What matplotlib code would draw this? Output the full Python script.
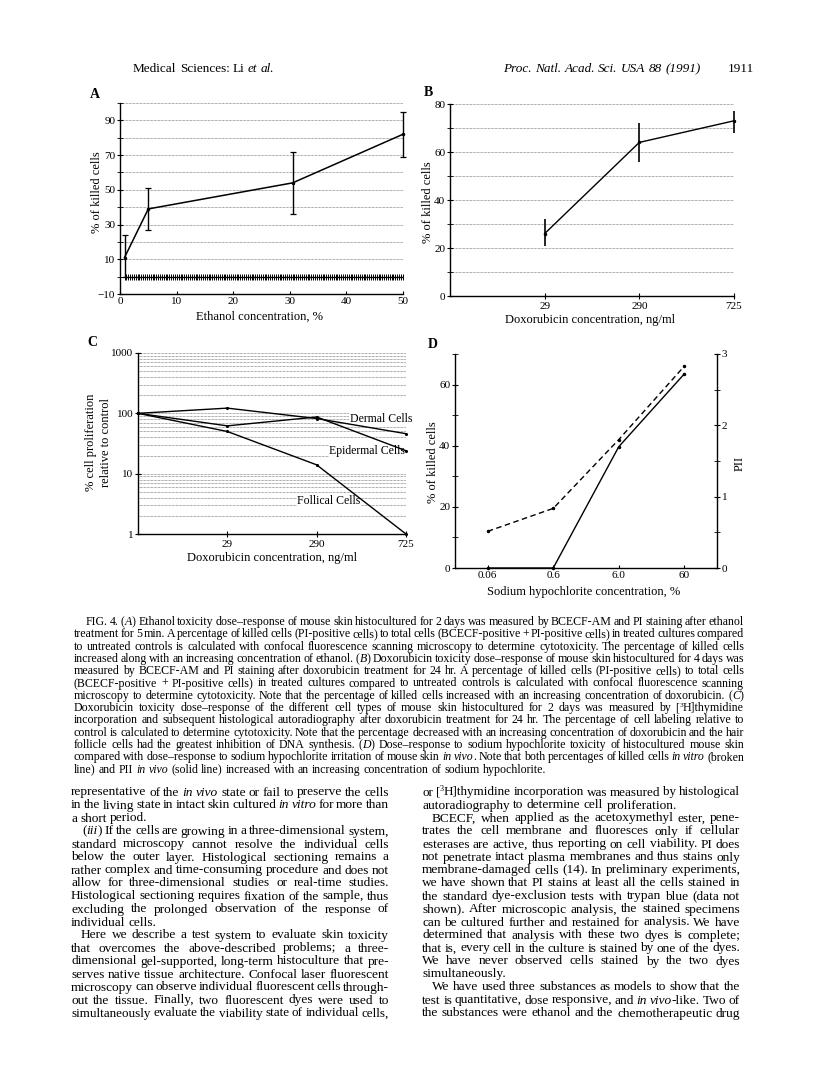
import numpy as np
import matplotlib
matplotlib.use('Agg')
import matplotlib.pyplot as plt
from matplotlib.ticker import FixedLocator, NullFormatter

plt.rcParams['font.family'] = ['Liberation Serif', 'DejaVu Serif']

W, H = 816, 1082

# --- data ---
# A: ethanol
ethanol_conc = [0.8, 5, 30.5, 50]
ethanol_killed = [11, 39, 54, 82]
ethanol_err_lo = [11, 12, 18, 13]
ethanol_err_hi = [13, 12, 18, 13]

# B: doxorubicin, killed cells
doxo_labels = ['29', '290', '725']
doxo_killed = [26, 64, 73]
doxo_err_lo = [5, 8, 5]
doxo_err_hi = [6, 8, 4]

# C: doxorubicin, proliferation (first point = control)
prolif_labels = ['29', '290', '725']
dermal = [100, 122, 82, 46]
epidermal = [100, 62, 87, 24]
follical = [100, 50, 14, 1]

# D: sodium hypochlorite
hypo_labels = ['0.06', '0.6', '6.0', '60']
hypo_killed = [12, 19.5, 42, 66]
hypo_pii = [0, 0, 1.7, 2.72]

# _..._ = italic, ^...^ = superscript
caption = [
    "FIG. 4.  (_A_) Ethanol toxicity dose–response of mouse skin histocultured for 2 days was measured by BCECF-AM and PI staining after ethanol",
    "treatment for 5 min. A percentage of killed cells (PI-positive cells) to total cells (BCECF-positive + PI-positive cells) in treated cultures compared",
    "to untreated controls is calculated with confocal fluorescence scanning microscopy to determine cytotoxicity. The percentage of killed cells",
    "increased along with an increasing concentration of ethanol. (_B_) Doxorubicin toxicity dose–response of mouse skin histocultured for 4 days was",
    "measured by BCECF-AM and PI staining after doxorubicin treatment for 24 hr. A percentage of killed cells (PI-positive cells) to total cells",
    "(BCECF-positive + PI-positive cells) in treated cultures compared to untreated controls is calculated with confocal fluorescence scanning",
    "microscopy to determine cytotoxicity. Note that the percentage of killed cells increased with an increasing concentration of doxorubicin. (_C_)",
    "Doxorubicin toxicity dose–response of the different cell types of mouse skin histocultured for 2 days was measured by [^3^H]thymidine",
    "incorporation and subsequent histological autoradiography after doxorubicin treatment for 24 hr. The percentage of cell labeling relative to",
    "control is calculated to determine cytotoxicity. Note that the percentage decreased with an increasing concentration of doxorubicin and the hair",
    "follicle cells had the greatest inhibition of DNA synthesis. (_D_) Dose–response to sodium hypochlorite toxicity of histocultured mouse skin",
    "compared with dose–response to sodium hypochlorite irritation of mouse skin _in vivo_. Note that both percentages of killed cells _in vitro_ (broken",
    "line) and PII _in vivo_ (solid line) increased with an increasing concentration of sodium hypochlorite.",
]

# (text, indent, justified)
left_col = [
    ("representative of the _in vivo_ state or fail to preserve the cells", 0, True),
    ("in the living state in intact skin cultured _in vitro_ for more than", 0, True),
    ("a short period.", 0, False),
    ("(_iii_) If the cells are growing in a three-dimensional system,", 11, True),
    ("standard microscopy cannot resolve the individual cells", 0, True),
    ("below the outer layer. Histological sectioning remains a", 0, True),
    ("rather complex and time-consuming procedure and does not", 0, True),
    ("allow for three-dimensional studies or real-time studies.", 0, True),
    ("Histological sectioning requires fixation of the sample, thus", 0, True),
    ("excluding the prolonged observation of the response of", 0, True),
    ("individual cells.", 0, False),
    ("Here we describe a test system to evaluate skin toxicity", 10, True),
    ("that overcomes the above-described problems; a three-", 0, True),
    ("dimensional gel-supported, long-term histoculture that pre-", 0, True),
    ("serves native tissue architecture. Confocal laser fluorescent", 0, True),
    ("microscopy can observe individual fluorescent cells through-", 0, True),
    ("out the tissue. Finally, two fluorescent dyes were used to", 0, True),
    ("simultaneously evaluate the viability state of individual cells,", 0, True),
]
right_col = [
    ("or [^3^H]thymidine incorporation was measured by histological", 0, True),
    ("autoradiography to determine cell proliferation.", 0, False),
    ("BCECF, when applied as the acetoxymethyl ester, pene-", 10, True),
    ("trates the cell membrane and fluoresces only if cellular", 0, True),
    ("esterases are active, thus reporting on cell viability. PI does", 0, True),
    ("not penetrate intact plasma membranes and thus stains only", 0, True),
    ("membrane-damaged cells (14). In preliminary experiments,", 0, True),
    ("we have shown that PI stains at least all the cells stained in", 0, True),
    ("the standard dye-exclusion tests with trypan blue (data not", 0, True),
    ("shown). After microscopic analysis, the stained specimens", 0, True),
    ("can be cultured further and restained for analysis. We have", 0, True),
    ("determined that analysis with these two dyes is complete;", 0, True),
    ("that is, every cell in the culture is stained by one of the dyes.", 0, True),
    ("We have never observed cells stained by the two dyes", 0, True),
    ("simultaneously.", 0, False),
    ("We have used three substances as models to show that the", 10, True),
    ("test is quantitative, dose responsive, and _in vivo_-like. Two of", 0, True),
    ("the substances were ethanol and the chemotherapeutic drug", 0, True),
]


def box(l, t, r, b):
    return [l / W, 1 - b / H, (r - l) / W, (b - t) / H]


def ftext(x, y, s, **kw):
    return fig.text(x / W, 1 - y / H, s, **kw)


def parse(line):
    words = []
    ital = False
    sup = False
    for w in line.split(' '):
        if not w:
            continue
        runs = []
        buf = ''
        for ch in w:
            if ch in '_^':
                if buf:
                    runs.append((buf, ital, sup))
                buf = ''
                if ch == '_':
                    ital = not ital
                else:
                    sup = not sup
            else:
                buf += ch
        if buf:
            runs.append((buf, ital, sup))
        words.append(runs)
    return words


def draw_line(text, x0, x1, ybase, size, justify, min_gap=0.55):
    words = parse(text)
    while True:
        items, widths = [], []
        for runs in words:
            objs, w = [], 0
            for s, ital, sup in runs:
                fs = size * 0.62 if sup else size
                yb = ybase - size * 0.45 if sup else ybase
                t = ftext(0, yb, s, size=fs, va='baseline', ha='left',
                          style='italic' if ital else 'normal')
                bw = t.get_window_extent(renderer).width
                objs.append((t, w))
                w += bw
            items.append(objs)
            widths.append(w)
        space = size * 100 / 72 * 0.25
        total = sum(widths)
        if justify and len(words) > 1:
            gap = (x1 - x0 - total) / (len(words) - 1)
        else:
            gap = space
        if gap < min_gap * space and size > 5:
            for objs in items:
                for t, _ in objs:
                    t.remove()
            size *= 0.98
            continue
        break
    x = x0
    for objs, w in zip(items, widths):
        for t, off in objs:
            t.set_x((x + off) / W)
        x += w + gap


def style_axis(ax):
    for side in ['top', 'right']:
        ax.spines[side].set_visible(False)
    for side in ['left', 'bottom']:
        ax.spines[side].set_linewidth(1.0)
    ax.set_axisbelow(True)
    ax.tick_params(labelsize=8, width=0.8)


fig = plt.figure(figsize=(W / 100, H / 100), dpi=100)
renderer = fig.canvas.get_renderer()
grid_kw = dict(color='0.35', linestyle=(0, (1, 1)), linewidth=0.5)

# ---------------- A ----------------
axA = fig.add_axes(box(120, 103, 403, 294))
style_axis(axA)
axA.set_xlim(0, 50)
axA.set_ylim(-10, 100)
axA.yaxis.set_major_locator(FixedLocator([-10, 10, 30, 50, 70, 90]))
axA.yaxis.set_minor_locator(FixedLocator([0, 20, 40, 60, 80, 100]))
axA.set_yticklabels(['\u221210', '10', '30', '50', '70', '90'])
axA.set_xticks([0, 10, 20, 30, 40, 50])
axA.grid(True, which='both', axis='y', **grid_kw)
axA.tick_params(axis='y', which='both', direction='inout', length=5, pad=1)
axA.tick_params(axis='x', direction='in', length=2, pad=2)
hatch_x = np.arange(0.8, 50.01, 0.33)
axA.plot(hatch_x, np.zeros_like(hatch_x), color='k', lw=1.0, marker='|',
         ms=4.5, mew=0.7)
axA.errorbar(ethanol_conc, ethanol_killed, yerr=[ethanol_err_lo, ethanol_err_hi],
             color='k', lw=1.1, elinewidth=1.0, capsize=2, capthick=0.9,
             marker='.', ms=3, clip_on=False)

# ---------------- B ----------------
axB = fig.add_axes(box(450, 104, 734, 296))
style_axis(axB)
axB.set_xlim(0, 3)
axB.set_ylim(0, 80)
axB.yaxis.set_major_locator(FixedLocator([0, 20, 40, 60, 80]))
axB.yaxis.set_minor_locator(FixedLocator([10, 30, 50, 70]))
axB.set_xticks([1, 2, 3])
axB.set_xticklabels(doxo_labels)
axB.grid(True, which='both', axis='y', **grid_kw)
axB.tick_params(axis='y', which='both', direction='inout', length=5, pad=1)
axB.tick_params(axis='x', direction='inout', length=5, pad=2)
axB.errorbar([1, 2, 3], doxo_killed, yerr=[doxo_err_lo, doxo_err_hi],
             color='k', lw=1.0, elinewidth=1.2, capsize=0, marker='.', ms=3,
             clip_on=False)

# ---------------- C ----------------
axC = fig.add_axes(box(138, 353, 406, 534))
style_axis(axC)
axC.set_yscale('log')
axC.set_xlim(0, 3)
axC.set_ylim(1, 1000)
axC.yaxis.set_major_locator(FixedLocator([1, 10, 100, 1000]))
axC.set_yticklabels(['1', '10', '100', '1000'])
axC.yaxis.set_minor_locator(FixedLocator([m * d for d in (1, 10, 100) for m in range(2, 10)]))
axC.yaxis.set_minor_formatter(NullFormatter())
axC.set_xticks([1, 2, 3])
axC.set_xticklabels(prolif_labels)
axC.grid(True, which='both', axis='y', **grid_kw)
axC.tick_params(axis='y', which='major', direction='inout', length=5, pad=1)
axC.tick_params(axis='y', which='minor', length=0)
axC.tick_params(axis='x', direction='inout', length=5, pad=2)
cx = np.arange(len(dermal))
for series in (dermal, epidermal, follical):
    axC.plot(cx, series, color='k', lw=1.0, marker='.', ms=2.5, clip_on=False, zorder=3)
lab_kw = dict(size=8.5, va='center', ha='left', zorder=1,
              bbox=dict(facecolor='white', edgecolor='none', pad=0.3))
axC.text(2.37, 82, 'Dermal Cells', **lab_kw)
axC.text(2.14, 24, 'Epidermal Cells', **lab_kw)
axC.text(1.78, 3.55, 'Follical Cells', **lab_kw)

# ---------------- D ----------------
axD = fig.add_axes(box(455, 354, 717, 568))
style_axis(axD)
axD.set_xlim(-0.5, 3.5)
axD.set_ylim(0, 70)
axD.yaxis.set_major_locator(FixedLocator([0, 20, 40, 60]))
axD.yaxis.set_minor_locator(FixedLocator([10, 30, 50, 70]))
dx = np.arange(len(hypo_labels))
axD.set_xticks(dx)
axD.set_xticklabels(hypo_labels)
axD.tick_params(axis='y', which='both', direction='inout', length=5, pad=1)
axD.tick_params(axis='x', direction='in', length=2, pad=2)
axD2 = axD.twinx()
axD2.set_ylim(0, 3)
axD2.spines['top'].set_visible(False)
axD2.spines['left'].set_visible(False)
axD2.spines['bottom'].set_visible(False)
axD2.spines['right'].set_linewidth(1.0)
axD2.yaxis.set_major_locator(FixedLocator([0, 1, 2, 3]))
axD2.yaxis.set_minor_locator(FixedLocator([0.5, 1.5, 2.5]))
axD2.tick_params(axis='y', which='both', direction='inout', length=5, pad=1, labelsize=8)
axD.plot(dx, hypo_killed, color='k', lw=1.0, ls=(0, (4, 2.5)), marker='.', ms=3)
axD2.plot(dx, hypo_pii, color='k', lw=1.0, marker='.', ms=3, clip_on=False)

# ---------------- axis labels ----------------
lab = dict(size=9, ha='center', va='center')
ftext(97, 192, '% of killed cells', rotation=90, **lab)
ftext(260, 317, 'Ethanol concentration, %', **lab)
ftext(428, 202, '% of killed cells', rotation=90, **lab)
ftext(590, 320, 'Doxorubicin concentration, ng/ml', **lab)
ftext(91, 442, '% cell proliferation', rotation=90, **lab)
ftext(106, 442, 'relative to control', rotation=90, **lab)
ftext(272, 558, 'Doxorubicin concentration, ng/ml', **lab)
ftext(433, 462, '% of killed cells', rotation=90, **lab)
ftext(584, 592, 'Sodium hypochlorite concentration, %', **lab)
ftext(740, 463, 'PII', rotation=90, **lab)

letter = dict(size=10, weight='bold', ha='center', va='center')
ftext(95, 95, 'A', **letter)
ftext(428, 93, 'B', **letter)
ftext(92, 343, 'C', **letter)
ftext(433, 345, 'D', **letter)

# ---------------- page header ----------------
draw_line('Medical Sciences: Li _et al._', 133, 277, 72, 9.5, False)
draw_line('_Proc. Natl. Acad. Sci. USA 88 (1991)_', 503, 705, 72, 9.5, False)
ftext(754, 72, '1911', size=9.5, va='baseline', ha='right')

# ---------------- caption ----------------
for i, line in enumerate(caption):
    x0 = 86 if i == 0 else 74
    draw_line(line, x0, 744, 625 + 12.3 * i, 8.6, i < len(caption) - 1)

# ---------------- body text ----------------
for i, (line, ind, just) in enumerate(left_col):
    draw_line(line, 71 + ind, 389, 795.5 + 13.0 * i, 9.6, just)
for i, (line, ind, just) in enumerate(right_col):
    draw_line(line, 422 + ind, 740, 795.5 + 13.0 * i, 9.6, just)

fig.savefig('out.png', dpi=100, facecolor='white')
plt.close(fig)
